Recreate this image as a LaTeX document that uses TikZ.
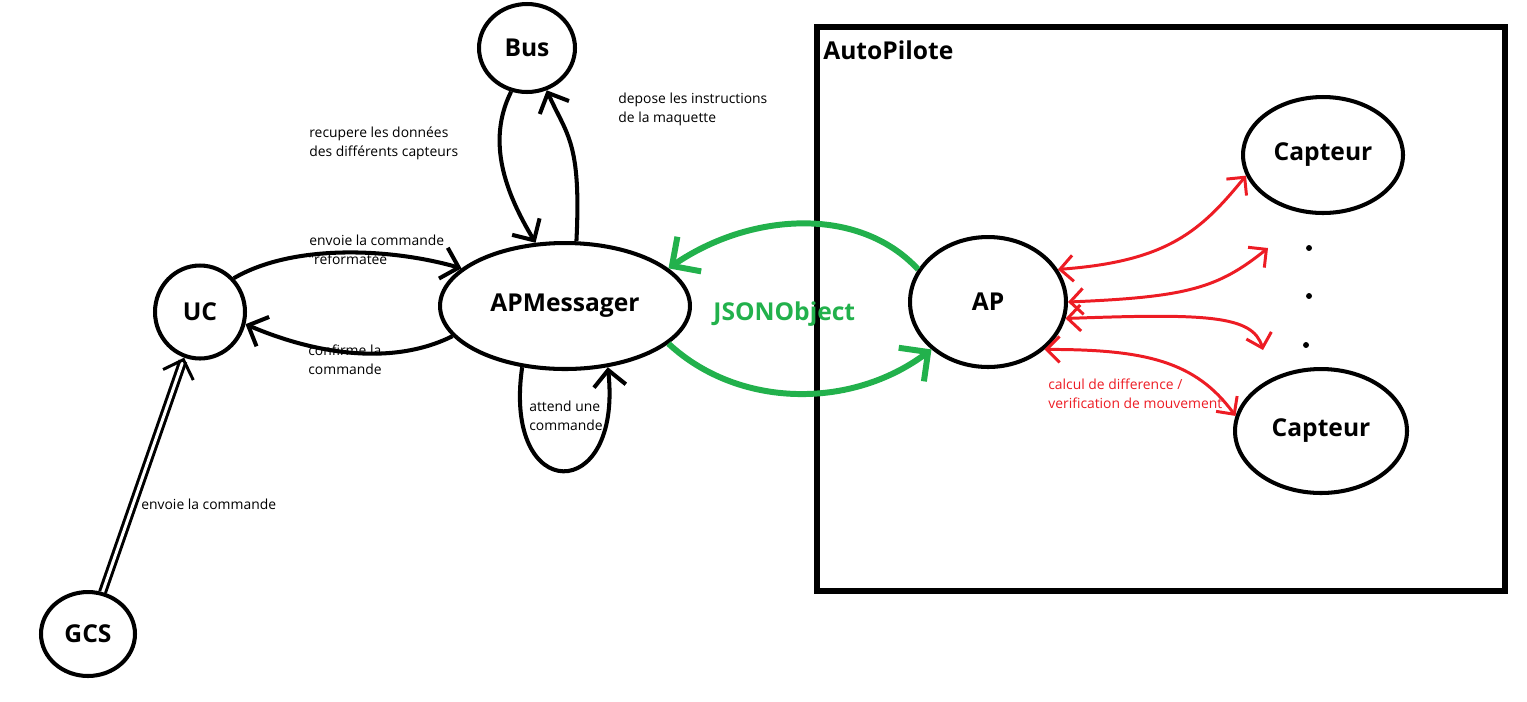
\documentclass[tikz,border=0pt]{standalone}
\usepackage{fontspec}
\setmainfont{Open Sans}
\usetikzlibrary{arrows.meta,shapes.geometric}
\definecolor{paintgreen}{RGB}{34,177,76}
\definecolor{paintred}{RGB}{237,28,36}

\begin{document}
\begin{tikzpicture}[x=0.02cm, y=-0.02cm, >={Straight Barb[length=3.2mm,width=6.4mm]},
  state/.style={draw, ellipse, line width=2.3pt, inner sep=0pt, font=\fontsize{14}{16}\selectfont\bfseries},
  link/.style={line width=2.3pt},
  json/.style={line width=3.4pt, draw=paintgreen, >={Straight Barb[length=4.2mm,width=8.4mm]}},
  sensor/.style={line width=1.7pt, draw=paintred, >={Straight Barb[length=2.6mm,width=5.2mm]}},
  note/.style={anchor=base west, inner sep=0pt, align=left, font=\fontsize{7.9}{10.8}\selectfont}]
\useasboundingbox (0,0) rectangle (1527,701);

% the AutoPilote block
\node (autopilote) [draw, line width=3.4pt, minimum width=13.76cm, minimum height=11.28cm] at (1161,309) {};
\node (aptitle) [anchor=base west, inner sep=0pt, font=\fontsize{14}{16}\selectfont\bfseries] at (823,59) {AutoPilote};

% states
\node (bus) [state, minimum width=1.92cm, minimum height=1.76cm] at (527,48) {Bus};
\node (uc) [state, minimum width=1.8cm, minimum height=1.86cm] at (200,312) {UC};
\node (gcs) [state, minimum width=1.88cm, minimum height=1.68cm] at (88,634) {GCS};
\node (apm) [state, minimum width=5cm, minimum height=2.52cm] at (565,306) {APMessager};
\node (ap) [state, minimum width=3.12cm, minimum height=2.6cm] at (988,302) {AP};
\node (capt1) [state, minimum width=3.2cm, minimum height=2.32cm] at (1323,155) {Capteur};
\node (capt2) [state, minimum width=3.44cm, minimum height=2.48cm] at (1321,431) {Capteur};
\node (dot1) [circle, fill, inner sep=1.2pt] at (1309,248) {};
\node (dot2) [circle, fill, inner sep=1.2pt] at (1309,296) {};
\node (dot3) [circle, fill, inner sep=1.2pt] at (1306,345) {};
\coordinate (end1) at (1268,248);
\coordinate (end2) at (1263,350);

% black links
\draw[link,->] (uc.45) .. controls +(60,-35) and +(-70,-20) .. (apm.160);
\draw[link,->] (apm.195) .. controls +(-60,30) and +(70,30) .. (uc.-15);
\draw[link,->] (apm.80) .. controls +(5,-100) and +(20,45) .. (bus.-65);
\draw[link,->] (bus.250) .. controls +(-25,50) and +(-30,-50) .. (apm.115);
\draw[link,->] (apm.235) .. controls +(-20,138) and +(15,138) .. (apm.305);
\draw[->, line width=1.7pt, double, double distance=1.7pt] (gcs) -- (uc);

% JSON exchange
\draw[json,->] (ap.155) .. controls +(-60,-65) and +(80,-55) .. (apm.20);
\draw[json,->] (apm.-20) .. controls +(70,65) and +(-80,60) .. (ap.-140);

% sensors
\draw[sensor,<->] (ap.25) .. controls +(110,-8) and +(-45,55) .. (capt1.195);
\draw[sensor,<->] (ap.0) .. controls +(120,-5) and +(-50,40) .. (end1);
\draw[sensor,<->] (ap.-12) .. controls +(140,-5) and +(-10,-35) .. (end2);
\draw[sensor,<->] (ap.-40) .. controls +(100,0) and +(-40,-55) .. (capt2.170);

% labels (base = last line)
\node (lblget) [note] at (309,156) {recupere les données\\des différents capteurs};
\node (lblput) [note] at (618,122) {depose les instructions\\de la maquette};
\node (lblsend) [note] at (309,264) {envoie la commande\\"reformatée};
\node (lblconf) [note] at (308,374) {confirme la\\commande};
\node (lblwait) [note] at (529,430) {attend une\\commande};
\node (lblgcs) [note] at (141,509) {envoie la commande};
\node (lblcalc) [note, text=paintred] at (1048,408) {calcul de difference /\\verification de mouvement};
\node (lbljson) [anchor=base west, inner sep=0pt, text=paintgreen, font=\fontsize{14}{16}\selectfont\bfseries] at (713,320) {JSONObject};
\end{tikzpicture}
\end{document}
